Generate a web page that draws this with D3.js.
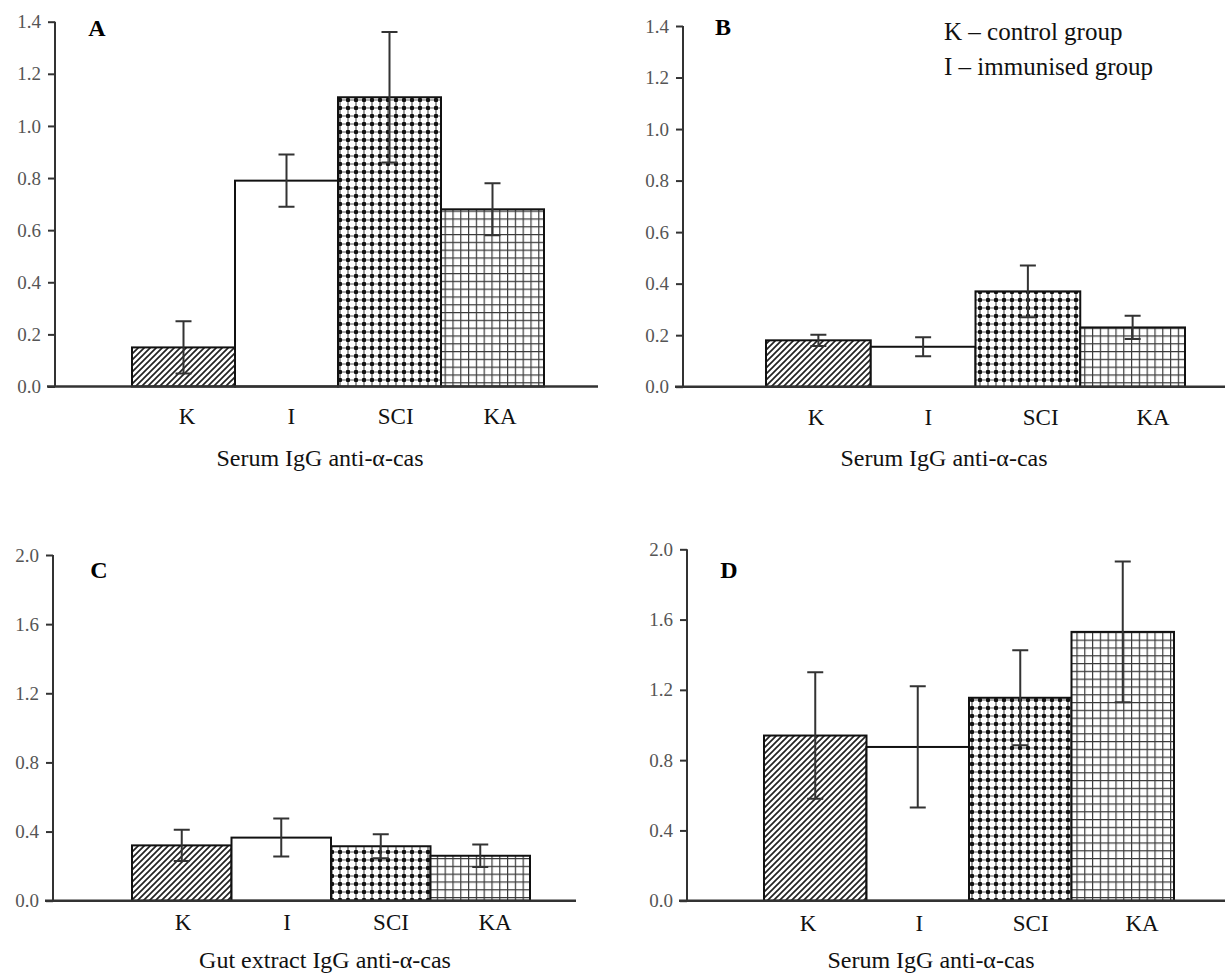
<!DOCTYPE html>
<html lang="en">
<head>
<meta charset="UTF-8">
<title>IgG anti-alpha-cas</title>
<script src="https://d3js.org/d3.v7.min.js"></script>
<style>
  * { margin: 0; padding: 0; }
  body { background: #fff; width: 1225px; height: 973px; overflow: hidden; }
  svg text { font-family: "Liberation Serif", "Times New Roman", serif; }
</style>
</head>
<body>
<svg id="chart" width="1225" height="973"></svg>
<script>
// data
const categories = ["K", "I", "SCI", "KA"];

const meansA = [0.15, 0.79, 1.11, 0.68];
const errA   = [0.10, 0.10, 0.25, 0.10];

const meansB = [0.18, 0.155, 0.37, 0.23];
const errB   = [0.022, 0.037, 0.10, 0.045];

const meansC = [0.32, 0.365, 0.315, 0.26];
const errC   = [0.09, 0.11, 0.07, 0.065];

const meansD = [0.94, 0.875, 1.155, 1.53];
const errD   = [0.36, 0.345, 0.27, 0.40];

const ticksAB = [0, 0.2, 0.4, 0.6, 0.8, 1.0, 1.2, 1.4];
const ticksCD = [0, 0.4, 0.8, 1.2, 1.6, 2.0];

const legendLines = ["K \u2013 control group", "I \u2013 immunised group"];

const svg = d3.select("#chart");
const defs = svg.append("defs");

// fill patterns: hatch, dotted check, fine grid
const hatch = defs.append("pattern").attr("id", "hatch")
  .attr("patternUnits", "userSpaceOnUse").attr("width", 6).attr("height", 6);
hatch.append("rect").attr("width", 6).attr("height", 6).attr("fill", "#fff");
hatch.append("path").attr("d", "M-1,1 L1,-1 M0,6 L6,0 M5,7 L7,5")
  .attr("stroke", "#222").attr("stroke-width", 1.7);

const dots = defs.append("pattern").attr("id", "dots")
  .attr("patternUnits", "userSpaceOnUse").attr("width", 8).attr("height", 8);
dots.append("rect").attr("width", 8).attr("height", 8).attr("fill", "#fff");
dots.append("path").attr("d", "M0,4 H8 M4,0 V8").attr("stroke", "#555").attr("stroke-width", 1.2);
dots.append("rect").attr("x", 2).attr("y", 2).attr("width", 4).attr("height", 4)
  .attr("rx", 1).attr("fill", "#111");

const grid = defs.append("pattern").attr("id", "grid")
  .attr("patternUnits", "userSpaceOnUse").attr("width", 7.8).attr("height", 7.8);
grid.append("rect").attr("width", 7.8).attr("height", 7.8).attr("fill", "#fff");
grid.append("path").attr("d", "M0,0.6 H7.8 M0.6,0 V7.8").attr("stroke", "#3a3a3a").attr("stroke-width", 1.2);

const fills = ["url(#hatch)", "#fff", "url(#dots)", "url(#grid)"];

const panels = [
  { letter: "A", means: meansA, errs: errA, ticks: ticksAB, max: 1.4,
    axisX: 55, y0: 386.5, yTop: 21.7, bars: [132, 544], lineEnd: 598,
    labels: [187, 500], labelY: 424, title: "Serum IgG anti-\u03b1-cas", titleX: 320, titleY: 466,
    letterX: 97, letterY: 36 },
  { letter: "B", means: meansB, errs: errB, ticks: ticksAB, max: 1.4,
    axisX: 683, y0: 386.7, yTop: 26, bars: [766, 1185], lineEnd: 1225,
    labels: [816, 1153], labelY: 425, title: "Serum IgG anti-\u03b1-cas", titleX: 944, titleY: 466,
    letterX: 723, letterY: 35, legend: true },
  { letter: "C", means: meansC, errs: errC, ticks: ticksCD, max: 2.0,
    axisX: 53, y0: 900.7, yTop: 555, bars: [132, 530], lineEnd: 576,
    labels: [183, 495], labelY: 930, title: "Gut extract IgG anti-\u03b1-cas", titleX: 325, titleY: 968,
    letterX: 99, letterY: 578 },
  { letter: "D", means: meansD, errs: errD, ticks: ticksCD, max: 2.0,
    axisX: 687, y0: 900.7, yTop: 549.3, bars: [764, 1174], lineEnd: 1225,
    labels: [808, 1142], labelY: 931, title: "Serum IgG anti-\u03b1-cas", titleX: 931, titleY: 968,
    letterX: 729, letterY: 578 }
];

panels.forEach(p => {
  const g = svg.append("g");
  const y = d3.scaleLinear().domain([0, p.max]).range([p.y0, p.yTop]);
  const x = d3.scaleBand().domain(categories).range(p.bars).paddingInner(0).paddingOuter(0);
  const xl = d3.scalePoint().domain(categories).range(p.labels);

  // bars
  g.selectAll(".bar")
    .data(categories)
    .join("rect")
    .attr("x", d => x(d))
    .attr("width", x.bandwidth())
    .attr("y", (d, i) => y(p.means[i]))
    .attr("height", (d, i) => y(0) - y(p.means[i]))
    .attr("fill", (d, i) => fills[i])
    .attr("stroke", "#111")
    .attr("stroke-width", 2);

  // y axis
  const yAxis = d3.axisLeft(y).tickValues(p.ticks).tickFormat(d3.format(".1f"))
    .tickSize(7).tickPadding(7);
  const ax = g.append("g").attr("transform", `translate(${p.axisX},0)`).call(yAxis);
  ax.select(".domain").attr("stroke", "#333").attr("stroke-width", 2).attr("d", `M0,${p.yTop}V${p.y0}`);
  ax.selectAll(".tick line").attr("stroke", "#333").attr("stroke-width", 2);
  ax.selectAll(".tick text")
    .attr("font-family", "Liberation Serif, serif")
    .attr("font-size", 19)
    .attr("fill", "#555");

  // baseline
  g.append("line")
    .attr("x1", p.axisX - 8).attr("x2", p.lineEnd)
    .attr("y1", y(0)).attr("y2", y(0))
    .attr("stroke", "#333").attr("stroke-width", 2.5);

  // error bars
  const eb = g.selectAll(".err")
    .data(categories)
    .join("g")
    .attr("transform", d => `translate(${x(d) + x.bandwidth() / 2},0)`);
  eb.append("path")
    .attr("d", (d, i) => {
      const hi = y(p.means[i] + p.errs[i]);
      const lo = y(p.means[i] - p.errs[i]);
      return `M-8,${hi}H8M0,${hi}V${lo}M-8,${lo}H8`;
    })
    .attr("fill", "none")
    .attr("stroke", "#333")
    .attr("stroke-width", 2);

  // category labels
  g.selectAll(".cat")
    .data(categories)
    .join("text")
    .attr("x", d => xl(d))
    .attr("y", p.labelY)
    .attr("text-anchor", "middle")
    .style("font-size", "23px")
    .attr("fill", "#111")
    .text(d => d);

  g.append("text")
    .attr("x", p.titleX).attr("y", p.titleY)
    .attr("text-anchor", "middle")
    .style("font-size", "24px")
    .attr("fill", "#111")
    .text(p.title);

  g.append("text")
    .attr("x", p.letterX).attr("y", p.letterY)
    .attr("text-anchor", "middle")
    .style("font-size", "24px")
    .style("font-weight", "bold")
    .attr("fill", "#000")
    .text(p.letter);

  if (p.legend) {
    g.selectAll(".leg")
      .data(legendLines)
      .join("text")
      .attr("x", 944)
      .attr("y", (d, i) => 40 + i * 35)
      .style("font-size", "25px")
      .attr("fill", "#111")
      .text(d => d);
  }
});
</script>
</body>
</html>
